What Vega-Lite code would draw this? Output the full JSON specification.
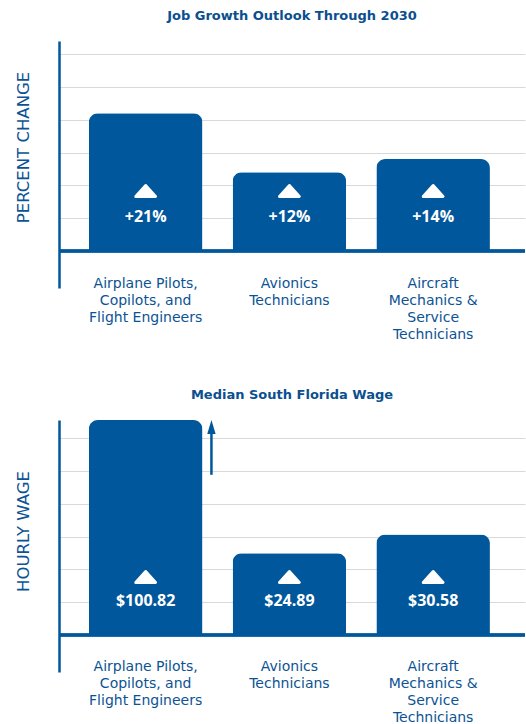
{
  "$schema": "https://vega.github.io/schema/vega-lite/v6.json",
  "background": "white",
  "padding": {"left": 15, "top": 10, "right": 0, "bottom": 0},
  "config": {"view": {"stroke": null}, "font": "DejaVu Sans"},
  "spacing": 47,
  "datasets": {
    "jobs": [
      {"occupation": "Airplane Pilots,\nCopilots, and\nFlight Engineers", "growth": 21, "label": "+21%"},
      {"occupation": "Avionics\nTechnicians", "growth": 12, "label": "+12%"},
      {"occupation": "Aircraft\nMechanics &\nService\nTechnicians", "growth": 14, "label": "+14%"}
    ],
    "wages": [
      {"occupation": "Airplane Pilots,\nCopilots, and\nFlight Engineers", "wage": 100.82, "label": "$100.82"},
      {"occupation": "Avionics\nTechnicians", "wage": 24.89, "label": "$24.89"},
      {"occupation": "Aircraft\nMechanics &\nService\nTechnicians", "wage": 30.58, "label": "$30.58"}
    ]
  },
  "vconcat": [
    {
      "width": 466,
      "height": 247,
      "title": {"text": "Job Growth Outlook Through 2030", "font": "DejaVu Sans", "fontSize": 13, "fontWeight": "bold", "color": "#0b4f8f", "offset": 18, "frame": "group", "anchor": "middle"},
      "data": {"name": "jobs"},
      "layer": [
        {
          "mark": {"type": "bar", "color": "#00579b", "cornerRadiusEnd": 9},
          "encoding": {
            "x": {"field": "occupation", "type": "nominal", "sort": null,
              "scale": {"paddingInner": 0.21, "paddingOuter": 0.226, "align": 0.46},
              "axis": {"title": null, "labelExpr": "split(datum.label, '\\n')", "labelFont": "DejaVu Sans", "labelFontSize": 14, "labelColor": "#0b5394", "labelLineHeight": 17, "labelPadding": -12, "labelBaseline": "top", "ticks": false, "domain": false, "labelAngle": 0, "labelLimit": 0, "labelOverlap": false}},
            "y": {"field": "growth", "type": "quantitative",
              "scale": {"domain": [-5.64, 32], "nice": false, "zero": false},
              "axis": {"values": [5, 10, 15, 20, 25, 30], "grid": true, "gridColor": "#d9d9d9", "ticks": false, "labels": false, "domainColor": "#00579b", "domainWidth": 2.5, "title": "PERCENT CHANGE", "titleFont": "DejaVu Sans", "titleFontSize": 16.5, "titleFontWeight": "normal", "titleColor": "#0b5394", "titlePadding": 28, "titleY": 106}}
          }
        },
        {
          "mark": {"type": "rule", "color": "#00579b", "strokeWidth": 3},
          "encoding": {"y": {"datum": 0}}
        },
        {
          "mark": {"type": "point", "shape": "M-0.9,0.5L0,-0.5L0.9,0.5Z", "size": 484, "filled": true, "color": "white", "stroke": "white", "strokeWidth": 3, "strokeJoin": "round", "opacity": 1, "yOffset": -60},
          "encoding": {
            "x": {"field": "occupation", "type": "nominal", "sort": null},
            "y": {"datum": 0}
          }
        },
        {
          "mark": {"type": "text", "color": "white", "font": "Open Sans", "fontSize": 16, "fontWeight": "bold", "baseline": "middle", "dy": -34},
          "encoding": {
            "x": {"field": "occupation", "type": "nominal", "sort": null},
            "y": {"datum": 0},
            "text": {"field": "label"}
          }
        }
      ]
    },
    {
      "width": 466,
      "height": 252,
      "title": {"text": "Median South Florida Wage", "font": "DejaVu Sans", "fontSize": 13, "fontWeight": "bold", "color": "#0b4f8f", "offset": 18, "frame": "group", "anchor": "middle"},
      "data": {"name": "wages"},
      "layer": [
        {
          "mark": {"type": "bar", "color": "#00579b", "cornerRadiusEnd": 9},
          "encoding": {
            "x": {"field": "occupation", "type": "nominal", "sort": null,
              "scale": {"paddingInner": 0.21, "paddingOuter": 0.226, "align": 0.46},
              "axis": {"title": null, "labelExpr": "split(datum.label, '\\n')", "labelFont": "DejaVu Sans", "labelFontSize": 14, "labelColor": "#0b5394", "labelLineHeight": 17, "labelPadding": -13, "labelBaseline": "top", "ticks": false, "domain": false, "labelAngle": 0, "labelLimit": 0, "labelOverlap": false}},
            "y": {"field": "wage", "type": "quantitative",
              "scale": {"domain": [-11.28, 65.5], "nice": false, "zero": false, "clamp": true},
              "axis": {"values": [10, 20, 30, 40, 50, 60], "grid": true, "gridColor": "#d9d9d9", "ticks": false, "labels": false, "domainColor": "#00579b", "domainWidth": 2.5, "title": "HOURLY WAGE", "titleFont": "DejaVu Sans", "titleFontSize": 16.5, "titleFontWeight": "normal", "titleColor": "#0b5394", "titlePadding": 28, "titleY": 111}}
          }
        },
        {
          "mark": {"type": "rule", "color": "#00579b", "strokeWidth": 3},
          "encoding": {"y": {"datum": 0}}
        },
        {
          "transform": [{"filter": "datum.wage > 65.5"}],
          "mark": {"type": "rule", "color": "#00579b", "strokeWidth": 2.5, "xOffset": 9},
          "encoding": {
            "x": {"field": "occupation", "type": "nominal", "sort": null, "bandPosition": 1},
            "y": {"datum": 48.8},
            "y2": {"datum": 62}
          }
        },
        {
          "transform": [{"filter": "datum.wage > 65.5"}],
          "mark": {"type": "point", "shape": "M0,-1L0.6,1L-0.6,1Z", "size": 196, "filled": true, "color": "#00579b", "opacity": 1, "xOffset": 9},
          "encoding": {
            "x": {"field": "occupation", "type": "nominal", "sort": null, "bandPosition": 1},
            "y": {"datum": 63.4}
          }
        },
        {
          "mark": {"type": "point", "shape": "M-0.9,0.5L0,-0.5L0.9,0.5Z", "size": 484, "filled": true, "color": "white", "stroke": "white", "strokeWidth": 3, "strokeJoin": "round", "opacity": 1, "yOffset": -58},
          "encoding": {
            "x": {"field": "occupation", "type": "nominal", "sort": null},
            "y": {"datum": 0}
          }
        },
        {
          "mark": {"type": "text", "color": "white", "font": "Open Sans", "fontSize": 16, "fontWeight": "bold", "baseline": "middle", "dy": -34},
          "encoding": {
            "x": {"field": "occupation", "type": "nominal", "sort": null},
            "y": {"datum": 0},
            "text": {"field": "label"}
          }
        }
      ]
    }
  ]
}
